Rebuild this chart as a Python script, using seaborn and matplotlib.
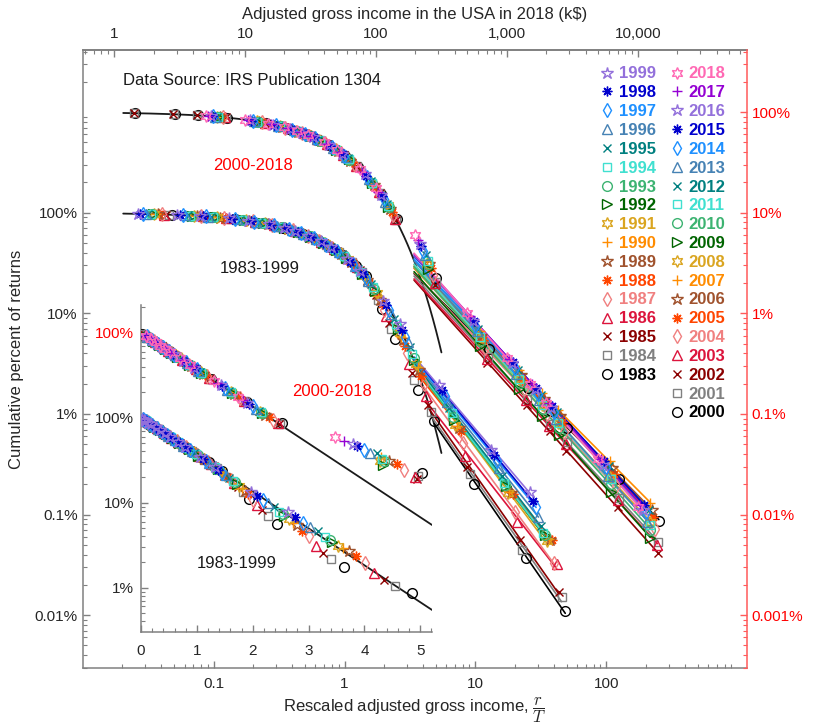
import numpy as np
import matplotlib
matplotlib.use('Agg')
import matplotlib.pyplot as plt
import seaborn as sns
from matplotlib.lines import Line2D
from matplotlib.ticker import LogLocator, NullFormatter, MultipleLocator

sns.set_theme(style='ticks')
plt.rcParams['font.family'] = ['Liberation Sans', 'DejaVu Sans']
plt.rcParams['mathtext.fontset'] = 'cm'
plt.rcParams['xtick.direction'] = 'in'
plt.rcParams['ytick.direction'] = 'in'

# ---------------- data ----------------
years_a = list(range(1983, 2000))
years_b = list(range(2000, 2019))

# income scale T of each year (k$)
temp_a = [20.6, 22.0, 23.0, 24.0, 24.9, 26.0, 26.8, 27.6, 28.4, 29.2,
          29.6, 30.3, 31.6, 33.0, 34.4, 36.2, 38.0]
temp_b = [39.7, 40.3, 40.5, 40.8, 42.4, 43.7, 45.0, 46.5, 46.8, 46.2,
          46.0, 46.4, 47.4, 48.7, 50.1, 51.7, 52.6, 55.0, 57.5]

# AGI bin edges (k$)
agi_a = [1, 2, 3, 5, 7, 10, 13, 16, 20, 25, 30, 40, 50, 75, 100, 200, 500, 1000]
agi_b = [5, 10, 15, 20, 25, 30, 40, 50, 75, 100, 200, 500, 1000, 1500, 2000, 5000, 10000]
agi_b_fine = [1, 2, 3, 5, 10, 15, 20, 25, 30, 40, 50, 75, 100, 200, 500, 1000, 1500, 2000, 5000, 10000]

# fraction of returns above each bin edge
cum_1983 = [0.953, 0.907, 0.864, 0.784, 0.712, 0.616, 0.532, 0.460, 0.379, 0.297, 0.233, 0.110, 0.056, 0.0174, 0.0086, 0.0020, 0.00037, 0.00011]
cum_1984 = [0.956, 0.913, 0.873, 0.797, 0.728, 0.635, 0.554, 0.483, 0.403, 0.321, 0.256, 0.135, 0.070, 0.0216, 0.0105, 0.0025, 0.00044, 0.00015]
cum_1985 = [0.957, 0.917, 0.878, 0.805, 0.738, 0.647, 0.568, 0.499, 0.419, 0.337, 0.271, 0.152, 0.081, 0.0254, 0.0123, 0.0030, 0.00056, 0.00017]
cum_1986 = [0.959, 0.920, 0.882, 0.812, 0.747, 0.659, 0.582, 0.513, 0.435, 0.353, 0.287, 0.170, 0.094, 0.031, 0.0150, 0.0038, 0.00085, 0.00032]
cum_1987 = [0.961, 0.923, 0.887, 0.818, 0.755, 0.669, 0.593, 0.526, 0.448, 0.366, 0.300, 0.185, 0.108, 0.040, 0.0197, 0.0051, 0.00107, 0.00033]
cum_1988 = [0.962, 0.926, 0.891, 0.825, 0.764, 0.681, 0.607, 0.541, 0.463, 0.382, 0.315, 0.200, 0.125, 0.047, 0.0238, 0.0068, 0.00160, 0.00056]
cum_1989 = [0.963, 0.928, 0.894, 0.830, 0.770, 0.689, 0.616, 0.550, 0.474, 0.393, 0.327, 0.212, 0.137, 0.054, 0.0272, 0.0072, 0.00165, 0.00056]
cum_1990 = [0.964, 0.930, 0.897, 0.834, 0.776, 0.696, 0.624, 0.560, 0.484, 0.404, 0.337, 0.225, 0.148, 0.058, 0.029, 0.0075, 0.00168, 0.00057]
cum_1991 = [0.965, 0.932, 0.900, 0.839, 0.782, 0.703, 0.633, 0.569, 0.495, 0.415, 0.348, 0.236, 0.158, 0.064, 0.031, 0.0078, 0.00165, 0.00055]
cum_1992 = [0.966, 0.934, 0.902, 0.843, 0.787, 0.710, 0.641, 0.578, 0.504, 0.425, 0.358, 0.246, 0.168, 0.070, 0.034, 0.0088, 0.00190, 0.00063]
cum_1993 = [0.967, 0.935, 0.904, 0.845, 0.790, 0.713, 0.645, 0.582, 0.509, 0.430, 0.363, 0.252, 0.173, 0.073, 0.036, 0.0094, 0.00195, 0.00062]
cum_1994 = [0.968, 0.936, 0.906, 0.848, 0.794, 0.719, 0.651, 0.590, 0.517, 0.438, 0.372, 0.260, 0.182, 0.078, 0.039, 0.0102, 0.00208, 0.00066]
cum_1995 = [0.969, 0.939, 0.909, 0.854, 0.801, 0.729, 0.663, 0.603, 0.531, 0.453, 0.387, 0.276, 0.196, 0.088, 0.046, 0.0115, 0.00240, 0.00077]
cum_1996 = [0.970, 0.941, 0.913, 0.859, 0.809, 0.739, 0.674, 0.616, 0.546, 0.469, 0.403, 0.292, 0.211, 0.098, 0.052, 0.0132, 0.00290, 0.00095]
cum_1997 = [0.971, 0.944, 0.917, 0.865, 0.816, 0.748, 0.685, 0.628, 0.559, 0.483, 0.418, 0.307, 0.226, 0.108, 0.058, 0.0152, 0.00340, 0.00120]
cum_1998 = [0.973, 0.946, 0.920, 0.871, 0.824, 0.759, 0.698, 0.643, 0.576, 0.501, 0.437, 0.326, 0.244, 0.121, 0.068, 0.0172, 0.00390, 0.00137]
cum_1999 = [0.974, 0.949, 0.924, 0.877, 0.832, 0.769, 0.710, 0.656, 0.591, 0.518, 0.454, 0.345, 0.262, 0.134, 0.078, 0.0194, 0.00440, 0.00166]

cum_2000 = [0.975, 0.951, 0.927, 0.882, 0.777, 0.685, 0.604, 0.533, 0.470, 0.365, 0.284, 0.155, 0.087, 0.0225, 0.0044, 0.00183, 0.00107, 0.00073, 0.000226, 0.000087]
cum_2001 = [0.976, 0.952, 0.928, 0.883, 0.780, 0.689, 0.609, 0.538, 0.475, 0.371, 0.289, 0.156, 0.084, 0.0205, 0.0037, 0.00142, 0.00079, 0.00053, 0.000147, 0.000053]
cum_2002 = [0.976, 0.952, 0.929, 0.884, 0.781, 0.691, 0.610, 0.539, 0.477, 0.372, 0.291, 0.157, 0.085, 0.0190, 0.0032, 0.00122, 0.00067, 0.00043, 0.000118, 0.000041]
cum_2003 = [0.885, 0.783, 0.692, 0.613, 0.542, 0.479, 0.375, 0.294, 0.159, 0.086, 0.0200, 0.0035, 0.00136, 0.00076, 0.00050, 0.000141, 0.000050]
cum_2004 = [0.889, 0.790, 0.702, 0.624, 0.554, 0.493, 0.389, 0.308, 0.170, 0.0946, 0.0243, 0.0045, 0.00176, 0.00100, 0.00066, 0.000194, 0.000071]
cum_2005 = [0.892, 0.795, 0.710, 0.633, 0.564, 0.503, 0.400, 0.319, 0.180, 0.101, 0.0284, 0.0054, 0.00218, 0.00125, 0.00084, 0.000253, 0.000095]
cum_2006 = [0.895, 0.801, 0.717, 0.641, 0.574, 0.513, 0.411, 0.329, 0.189, 0.108, 0.0310, 0.0060, 0.00243, 0.00140, 0.00095, 0.000290, 0.000110]
cum_2007 = [0.898, 0.807, 0.724, 0.650, 0.584, 0.525, 0.423, 0.341, 0.199, 0.116, 0.0340, 0.0066, 0.00275, 0.00160, 0.00109, 0.000338, 0.000130]
cum_2008 = [0.899, 0.808, 0.726, 0.652, 0.586, 0.527, 0.425, 0.344, 0.201, 0.118, 0.0312, 0.0056, 0.00220, 0.00124, 0.00082, 0.000235, 0.000085]
cum_2009 = [0.897, 0.805, 0.723, 0.649, 0.582, 0.522, 0.421, 0.339, 0.197, 0.115, 0.0277, 0.0047, 0.00175, 0.00095, 0.00062, 0.000168, 0.000058]
cum_2010 = [0.897, 0.805, 0.722, 0.647, 0.581, 0.521, 0.419, 0.337, 0.196, 0.114, 0.0310, 0.0053, 0.00202, 0.00112, 0.00073, 0.000200, 0.000070]
cum_2011 = [0.898, 0.806, 0.724, 0.650, 0.583, 0.524, 0.422, 0.340, 0.199, 0.116, 0.0330, 0.0058, 0.00220, 0.00123, 0.00081, 0.000223, 0.000079]
cum_2012 = [0.900, 0.810, 0.729, 0.656, 0.590, 0.531, 0.430, 0.348, 0.206, 0.121, 0.0380, 0.0070, 0.00275, 0.00155, 0.00104, 0.000301, 0.000110]
cum_2013 = [0.902, 0.814, 0.735, 0.663, 0.599, 0.540, 0.440, 0.358, 0.214, 0.128, 0.0380, 0.0066, 0.00247, 0.00136, 0.00089, 0.000243, 0.000085]
cum_2014 = [0.905, 0.819, 0.741, 0.671, 0.607, 0.549, 0.450, 0.369, 0.224, 0.136, 0.0417, 0.0074, 0.00285, 0.00159, 0.00105, 0.000294, 0.000105]
cum_2015 = [0.908, 0.824, 0.748, 0.679, 0.617, 0.560, 0.461, 0.380, 0.234, 0.145, 0.0468, 0.0084, 0.00326, 0.00183, 0.00121, 0.000343, 0.000124]
cum_2016 = [0.909, 0.827, 0.752, 0.684, 0.622, 0.565, 0.468, 0.386, 0.240, 0.149, 0.0490, 0.0084, 0.00318, 0.00176, 0.00115, 0.000314, 0.000110]
cum_2017 = [0.913, 0.834, 0.761, 0.695, 0.635, 0.580, 0.483, 0.403, 0.256, 0.162, 0.0536, 0.0093, 0.00354, 0.00197, 0.00128, 0.000355, 0.000125]
cum_2018 = [0.917, 0.840, 0.770, 0.706, 0.647, 0.593, 0.499, 0.419, 0.271, 0.176, 0.0598, 0.0100, 0.00360, 0.00200, 0.00128, 0.000360, 0.000120]

cum_a = [cum_1983, cum_1984, cum_1985, cum_1986, cum_1987, cum_1988, cum_1989, cum_1990, cum_1991,
         cum_1992, cum_1993, cum_1994, cum_1995, cum_1996, cum_1997, cum_1998, cum_1999]
cum_b = [cum_2000, cum_2001, cum_2002, cum_2003, cum_2004, cum_2005, cum_2006, cum_2007, cum_2008, cum_2009,
         cum_2010, cum_2011, cum_2012, cum_2013, cum_2014, cum_2015, cum_2016, cum_2017, cum_2018]

shift_b = 10.0      # 2000-2018 moved up one decade (read on right axis)
tail_from = 3.4     # rescaled income where power-law fits start
fit_min_a, fit_min_b = 100, 500   # lowest bin (k$) used in the fits
bg_amp, bg_temp = 1.0, 1.0        # Boltzmann-Gibbs fit exp(-r/T)

# marker / colour cycle: 2018 ... 2000 (1999 ... 1983 reuse from the 3rd on)
hexa, aster = (6, 1, 0), (8, 2, 0)
markers = [hexa, '+', '*', aster, 'd', '^', 'x', 's', 'o', '>',
           hexa, '+', '*', aster, 'd', '^', 'x', 's', 'o']
colors = ['#FF69B4', '#9400D3', '#9370DB', '#0000CD', '#1E90FF', '#4682B4', '#008080',
          '#40E0D0', '#3CB371', '#006400', '#DAA520', '#FF8C00', '#A0522D', '#FF4500',
          '#F08080', '#DC143C', '#8B0000', '#808080', '#000000']


def msize(m):
    if m == '*':
        return 9
    if m == hexa:
        return 8.5
    if m in ('s', 'x'):
        return 6
    return 7


series = []
for i, yr in enumerate(years_a):
    agi = np.array(agi_a, float)
    series.append(dict(year=yr, agi=agi, x=agi / temp_a[i], y=np.array(cum_a[i]),
                       k=1999 - yr + 2, fit=fit_min_a, shift=1.0))
for i, yr in enumerate(years_b):
    agi = np.array(agi_b_fine if yr <= 2002 else agi_b, float)
    series.append(dict(year=yr, agi=agi, x=agi / temp_b[i], y=np.array(cum_b[i]),
                       k=2018 - yr, fit=fit_min_b, shift=shift_b))

grey = '#808080'
txt = '#262626'

fig = plt.figure(figsize=(8.3, 7.27), dpi=100)
ax = fig.add_axes([0.0996, 0.0807, 0.8, 0.8505])
ax.set_xscale('log')
ax.set_yscale('log')

# Boltzmann-Gibbs fits
bg_x = np.geomspace(0.0204, 5.5, 300)
for s in (1.0, shift_b):
    sns.lineplot(x=bg_x, y=s * bg_amp * np.exp(-bg_x / bg_temp), color='k',
                 linewidth=1.3, ax=ax, zorder=1)

for d in series:
    m, c = markers[d['k']], colors[d['k']]
    ax.plot(d['x'], d['y'] * d['shift'], ls='none', marker=m, ms=msize(m),
            mfc='none', mec=c, mew=1.0, zorder=3)
    sel = (d['agi'] >= d['fit']) & (d['x'] >= tail_from)
    p = np.polyfit(np.log10(d['x'][sel]), np.log10(d['y'][sel]), 1)
    x0 = max(tail_from, d['x'][d['agi'] == 100][0])
    xl = np.array([x0, d['x'][-1]])
    sns.lineplot(x=xl, y=d['shift'] * 10 ** np.polyval(p, np.log10(xl)), color=c,
                 linewidth=1.2, ax=ax, zorder=2)

ylo, yhi = 2.96e-5, 41.4
ax.set_xlim(0.01, 1180)
ax.set_ylim(ylo, yhi)
ax.set_xticks([0.1, 1, 10, 100], ['0.1', '1', '10', '100'])
ax.set_yticks([1e-4, 1e-3, 1e-2, 1e-1, 1], ['0.01%', '0.1%', '1%', '10%', '100%'])
for a in (ax.xaxis, ax.yaxis):
    a.set_minor_locator(LogLocator(base=10, subs=np.arange(2, 10), numticks=30))
    a.set_minor_formatter(NullFormatter())
ax.tick_params(which='both', color=grey, labelcolor=txt, labelsize=11)
ax.tick_params(which='major', length=5, width=1)
ax.tick_params(which='minor', length=3, width=0.8)
ax.tick_params(axis='x', pad=6.5)
ax.spines['right'].set_visible(False)
for sp in ('left', 'bottom', 'top'):
    ax.spines[sp].set_color(grey)
    ax.spines[sp].set_linewidth(1.1)

ax.set_xlabel(r'Rescaled adjusted gross income, $\dfrac{r}{T}$', fontsize=12, color=txt)
ax.xaxis.set_label_coords(0.5, -0.045)
ax.set_ylabel('Cumulative percent of returns', fontsize=12, color=txt)
ax.yaxis.set_label_coords(-0.088, 0.5)

ax.text(0.061, 0.951, 'Data Source: IRS Publication 1304', transform=ax.transAxes,
        fontsize=12, color='k', va='center', ha='left')
ax.text(0.257, 0.814, '2000-2018', transform=ax.transAxes, fontsize=12,
        color='red', ha='center', va='center')
ax.text(0.267, 0.647, '1983-1999', transform=ax.transAxes, fontsize=12,
        color='k', ha='center', va='center')

# right axis: actual values for the shifted 2000-2018 curves
axr = ax.twinx()
axr.set_yscale('log')
axr.set_ylim(ylo / shift_b, yhi / shift_b)
axr.set_yticks([1e-5, 1e-4, 1e-3, 1e-2, 1e-1, 1],
               ['0.001%', '0.01%', '0.1%', '1%', '10%', '100%'])
axr.yaxis.set_minor_locator(LogLocator(base=10, subs=np.arange(2, 10), numticks=30))
axr.yaxis.set_minor_formatter(NullFormatter())
axr.tick_params(axis='y', which='both', color='#ff5a5a', labelcolor='red', labelsize=11)
axr.tick_params(axis='y', which='major', length=5, width=1)
axr.tick_params(axis='y', which='minor', length=3, width=0.8)
for sp in ('left', 'bottom', 'top'):
    axr.spines[sp].set_visible(False)
axr.spines['right'].set_color('#ff5a5a')
axr.spines['right'].set_linewidth(1.1)

# top axis in 2018 dollars
t_2018 = temp_b[-1]
secax = ax.secondary_xaxis('top', functions=(lambda v: v * t_2018, lambda v: v / t_2018))
secax.set_ticks([1, 10, 100, 1000, 10000], labels=['1', '10', '100', '1,000', '10,000'])
secax.xaxis.set_minor_locator(LogLocator(base=10, subs=np.arange(2, 10), numticks=30))
secax.xaxis.set_minor_formatter(NullFormatter())
secax.tick_params(which='both', direction='in', color=grey, labelcolor=txt, labelsize=11, pad=6.5)
secax.tick_params(which='major', length=5, width=1)
secax.tick_params(which='minor', length=3, width=0.8)
secax.spines['top'].set_color(grey)
secax.set_xlabel('Adjusted gross income in the USA in 2018 (k$)', fontsize=12, color=txt,
                 labelpad=5.5)

# legend
handles, labels, lcols = [], [], []
for d in sorted(series[:17], key=lambda q: -q['year']):
    m, c = markers[d['k']], colors[d['k']]
    handles.append(Line2D([], [], ls='none', marker=m, ms=msize(m), mfc='none', mec=c, mew=1.0))
    labels.append(str(d['year']))
    lcols.append(c)
for _ in range(2):
    handles.append(Line2D([], [], ls='none'))
    labels.append('')
    lcols.append('w')
for d in sorted(series[17:], key=lambda q: -q['year']):
    m, c = markers[d['k']], colors[d['k']]
    handles.append(Line2D([], [], ls='none', marker=m, ms=msize(m), mfc='none', mec=c, mew=1.0))
    labels.append(str(d['year']))
    lcols.append(c)
leg = fig.legend(handles, labels, loc='upper left', bbox_to_anchor=(600.5 / 830, 1 - 66.5 / 727),
                 ncol=2, frameon=False, prop=dict(weight='bold', size=12),
                 handlelength=0.8, handletextpad=0.3, columnspacing=0.85,
                 labelspacing=0.23, borderpad=0, borderaxespad=0)
for t, c in zip(leg.get_texts(), lcols):
    t.set_color(c)

# inset: semi-log view of the low-income part
axi = fig.add_axes([0.1699, 0.1311, 0.3506, 0.4494])
axi.set_facecolor('none')
axi.set_yscale('log')
bgi_x = np.linspace(0, 5.21, 200)
for s in (1.0, shift_b):
    sns.lineplot(x=bgi_x, y=s * bg_amp * np.exp(-bgi_x / bg_temp), color='k',
                 linewidth=1.3, ax=axi, zorder=1)
for d in series:
    m, c = markers[d['k']], colors[d['k']]
    sel = d['x'] <= 5.21
    axi.plot(d['x'][sel], d['y'][sel] * d['shift'], ls='none', marker=m, ms=msize(m),
             mfc='none', mec=c, mew=1.0, zorder=3)
axi.set_xlim(0, 5.21)
axi.set_ylim(0.00303, 21.2)
axi.set_xticks([0, 1, 2, 3, 4, 5], ['0', '1', '2', '3', '4', '5'])
axi.xaxis.set_minor_locator(MultipleLocator(0.2))
axi.set_yticks([0.01, 0.1, 1, 10], ['1%', '10%', '100%', '100%'])
axi.yaxis.set_minor_locator(LogLocator(base=10, subs=np.arange(2, 10), numticks=30))
axi.yaxis.set_minor_formatter(NullFormatter())
axi.tick_params(which='both', color=grey, labelcolor=txt, labelsize=11)
axi.tick_params(which='major', length=5, width=1)
axi.tick_params(which='minor', length=3, width=0.8)
axi.tick_params(axis='x', pad=9)
axi.tick_params(axis='y', pad=5)
axi.get_yticklabels()[-1].set_color('red')
for sp in ('top', 'right'):
    axi.spines[sp].set_visible(False)
for sp in ('left', 'bottom'):
    axi.spines[sp].set_color(grey)
    axi.spines[sp].set_linewidth(1.1)
axi.text(0.655, 0.735, '2000-2018', transform=axi.transAxes, fontsize=12,
         color='red', ha='center', va='center')
axi.text(0.329, 0.209, '1983-1999', transform=axi.transAxes, fontsize=12,
         color='k', ha='center', va='center')

fig.savefig('out.png', dpi=100)
